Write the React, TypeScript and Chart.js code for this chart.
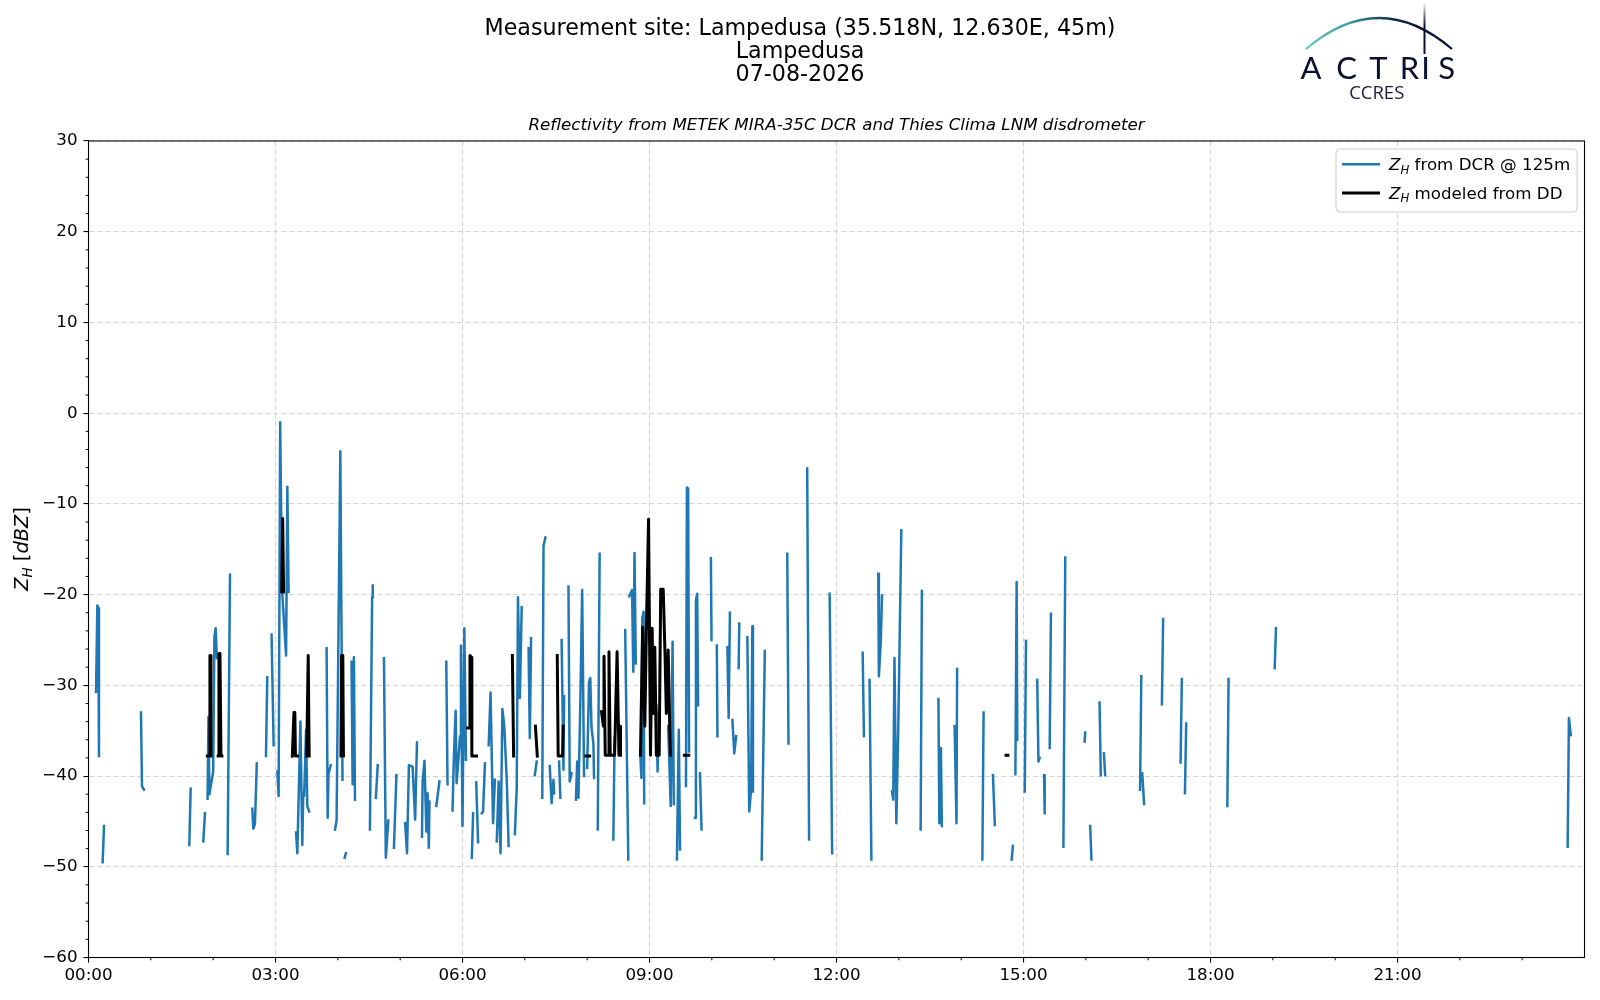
import React, { useEffect, useRef } from 'react';
import { Chart, registerables } from 'chart.js';

Chart.register(...registerables);

// ---------------- DATA ----------------
// Z_H from DCR @ 125m  (time in hours of day, reflectivity in dBZ; null = gap)
const dcrTime: (number | null)[] = [
  0.121, 0.142, 0.157, 0.168, null,
  0.227, 0.249, null,
  0.842, 0.858, 0.89, null,
  1.617, 1.639, null,
  1.842, 1.868, null,
  1.91, 1.925, 1.94, 2.0, 2.02, 2.04, 2.06, null,
  2.232, 2.27, null,
  2.628, 2.644, 2.67, 2.7, null,
  2.847, 2.868, null,
  2.937, 2.97, null,
  3.03, 3.05, 3.075, 3.105, 3.17, 3.19, 3.21, null,
  3.33, 3.35, 3.37, 3.4, 3.43, 3.445, 3.46, 3.49, 3.51, 3.54, null,
  3.82, 3.837, 3.85, 3.885, null,
  3.955, 3.98, 4.04, 4.075, null,
  4.11, 4.13, null,
  4.22, 4.237, 4.258, 4.275, null,
  4.515, 4.55, 4.56, null,
  4.61, 4.64, null,
  4.74, 4.77, 4.81, null,
  4.9, 4.94, null,
  5.08, 5.11, 5.14, 5.2, 5.24, 5.27, null,
  5.35, 5.36, 5.39, 5.42, 5.44, 5.46, 5.47, null,
  5.58, 5.63, null,
  5.74, 5.76, null,
  5.84, 5.86, 5.89, 5.905, 5.93, 5.96, 5.975, 6.0, 6.03, 6.055, null,
  6.15, 6.17, null,
  6.22, 6.25, null,
  6.31, 6.33, 6.36, null,
  6.42, 6.45, 6.49, 6.52, null,
  6.55, 6.58, 6.61, 6.64, 6.67, 6.71, 6.74, null,
  6.84, 6.87, 6.89, 6.92, 6.95, null,
  7.06, 7.08, 7.1, null,
  7.16, 7.19, null,
  7.28, 7.3, 7.33, null,
  7.4, 7.43, 7.46, 7.47, null,
  7.55, 7.57, null,
  7.59, 7.62, 7.63, null,
  7.7, 7.72, 7.75, null,
  7.82, 7.84, 7.86, 7.89, 7.92, 7.95, null,
  8.0, 8.03, 8.05, 8.07, 8.1, 8.11, null,
  8.17, 8.2, null,
  8.42, 8.44, null,
  8.61, 8.66, null,
  8.675, 8.72, 8.74, 8.76, 8.78, null,
  8.855, 8.87, 8.885, 8.905, 8.915, null,
  9.11, 9.13, 9.15, null,
  9.3, 9.34, 9.37, 9.39, null,
  9.44, 9.47, 9.49, null,
  9.585, 9.6, 9.62, 9.635, null,
  9.73, 9.745, 9.765, 9.78, null,
  9.81, 9.835, null,
  9.985, 9.995, null,
  10.08, 10.09, null,
  10.25, 10.27, 10.29, null,
  10.33, 10.36, 10.39, null,
  10.43, 10.44, null,
  10.57, 10.6, 10.63, 10.65, 10.66, null,
  10.8, 10.85, null,
  11.21, 11.23, null,
  11.53, 11.56, null,
  11.89, 11.93, null,
  12.42, 12.44, null,
  12.53, 12.56, null,
  12.67, 12.68, 12.71, 12.73, null,
  12.89, 12.91, 12.93, 12.96, 12.99, 13.04, null,
  13.35, 13.37, null,
  13.635, 13.65, 13.675, 13.69, null,
  13.895, 13.925, 13.935, null,
  14.34, 14.36, null,
  14.51, 14.54, null,
  14.81, 14.83, null,
  14.87, 14.89, 14.9, null,
  15.02, 15.04, null,
  15.22, 15.24, 15.26, null,
  15.33, 15.34, null,
  15.42, 15.44, null,
  15.64, 15.67, null,
  15.98, 15.99, null,
  16.07, 16.09, null,
  16.22, 16.24, null,
  16.29, 16.31, null,
  16.87, 16.89, null,
  16.905, 16.935, null,
  17.22, 17.24, null,
  17.52, 17.54, null,
  17.59, 17.61, null,
  18.27, 18.29, null,
  19.03, 19.05, null,
  23.73, 23.75, 23.78,
];
const dcrZh: (number | null)[] = [
  -30.7, -21.2, -21.5, -37.8, null,
  -49.5, -45.5, null,
  -33.0, -41.1, -41.5, null,
  -47.6, -41.4, null,
  -47.2, -44.1, null,
  -42.5, -33.5, -42.0, -39.5, -24.7, -23.7, -27.0, null,
  -48.6, -17.8, null,
  -43.6, -45.8, -45.3, -38.6, null,
  -37.8, -29.1, null,
  -24.4, -36.6, null,
  -39.5, -42.2, -1.0, -19.5, -26.7, -8.1, -19.7, null,
  -46.2, -48.5, -42.8, -34.0, -47.6, -41.9, -42.2, -34.9, -43.3, -43.9, null,
  -25.9, -44.6, -39.8, -38.8, null,
  -45.9, -44.9, -4.2, -40.4, null,
  -49.0, -48.5, null,
  -27.4, -40.9, -26.9, -42.6, null,
  -45.9, -20.3, -19.0, null,
  -42.4, -38.8, null,
  -27.0, -49.0, -44.9, null,
  -47.9, -39.9, null,
  -45.2, -48.5, -38.8, -39.0, -44.8, -36.3, null,
  -46.7, -40.6, -38.3, -46.1, -41.9, -47.9, -42.8, null,
  -43.3, -40.6, null,
  -27.4, -40.9, null,
  -43.8, -38.3, -32.8, -40.8, -38.6, -35.6, -25.6, -45.5, -23.7, -38.2, null,
  -49.0, -44.1, null,
  -40.7, -47.3, null,
  -44.1, -43.9, -38.6, null,
  -36.6, -30.8, -45.2, -40.4, null,
  -47.2, -40.6, -48.5, -32.6, -34.5, -40.4, -47.7, null,
  -46.4, -41.3, -20.3, -31.4, -21.4, null,
  -25.9, -35.8, -24.8, null,
  -39.9, -38.4, null,
  -42.4, -14.6, -13.7, null,
  -38.9, -43.0, -40.4, -41.9, null,
  -38.4, -42.4, null,
  -25.0, -39.3, -31.2, null,
  -19.1, -40.6, -39.7, null,
  -42.6, -38.4, -42.4, -32.0, -19.5, -40.0, null,
  -39.1, -29.6, -29.2, -34.7, -36.4, -40.2, null,
  -45.9, -15.5, null,
  -47.0, -35.8, null,
  -23.9, -49.2, null,
  -20.2, -19.5, -28.5, -15.4, -27.6, null,
  -38.0, -40.2, -22.6, -21.9, -43.0, null,
  -32.2, -39.5, -33.0, null,
  -34.5, -43.3, -25.2, -43.1, null,
  -49.2, -34.9, -48.1, null,
  -41.1, -8.2, -8.3, -37.3, null,
  -44.6, -20.6, -19.9, -32.2, null,
  -39.7, -45.9, null,
  -16.0, -25.0, null,
  -25.6, -35.6, null,
  -25.8, -33.6, -22.0, null,
  -33.8, -37.5, -35.6, null,
  -28.1, -23.2, null,
  -24.7, -43.9, -41.5, -23.5, -41.7, null,
  -49.2, -26.2, null,
  -15.5, -36.4, null,
  -6.1, -47.0, null,
  -19.9, -48.5, null,
  -26.4, -35.6, null,
  -29.4, -49.2, null,
  -17.7, -29.0, -25.2, -20.1, null,
  -41.7, -42.6, -27.0, -45.2, -35.1, -12.9, null,
  -45.9, -19.6, null,
  -31.5, -45.2, -36.9, -45.5, null,
  -34.5, -45.2, -28.2, null,
  -49.2, -33.0, null,
  -39.9, -45.4, null,
  -49.2, -47.7, null,
  -39.8, -18.6, -36.0, null,
  -41.7, -25.1, null,
  -29.4, -38.4, -38.0, null,
  -39.9, -44.1, null,
  -36.9, -22.1, null,
  -47.8, -15.9, null,
  -36.2, -35.2, null,
  -45.5, -49.2, null,
  -31.9, -39.9, null,
  -37.5, -39.9, null,
  -41.5, -29.0, null,
  -39.7, -43.1, null,
  -32.1, -22.7, null,
  -38.5, -29.3, null,
  -41.9, -34.2, null,
  -43.3, -29.3, null,
  -28.1, -23.7, null,
  -47.8, -33.6, -35.5,
];

// Z_H modeled from DD
const ddTime: (number | null)[] = [
  1.906, 1.937, 1.948, 1.96, 1.965, null,
  2.08, 2.093, 2.109, 2.125, 2.14, null,
  3.1, 3.115, 3.13, null,
  3.27, 3.296, 3.31, 3.32, 3.35, null,
  3.5, 3.525, 3.54, null,
  4.05, 4.06, 4.08, 4.09, null,
  6.08, 6.11, 6.12, 6.145, 6.15, 6.226, null,
  6.8, 6.82, null,
  7.17, 7.2, null,
  7.52, 7.535, 7.605, 7.615, null,
  7.98, 8.04, null,
  8.23, 8.26, 8.27, 8.29, 8.34, 8.35, 8.37, 8.44, 8.48, 8.51, 8.53, 8.535, null,
  8.855, 8.89, 8.925, 8.95, 8.985, 9.016, 9.043, 9.06, 9.085, 9.11, 9.155, 9.18, 9.22, 9.25, 9.27, 9.3, 9.325, 9.335, null,
  9.56, 9.63, null,
  14.72, 14.75,
];
const ddZh: (number | null)[] = [
  -37.8, -37.8, -26.7, -26.7, -37.8, null,
  -37.8, -26.5, -26.5, -37.8, -37.8, null,
  -19.7, -11.6, -19.7, null,
  -37.8, -33.0, -33.0, -37.8, -37.8, null,
  -37.8, -26.7, -37.8, null,
  -37.8, -26.7, -26.7, -37.8, null,
  -34.7, -34.7, -26.7, -26.9, -37.8, -37.8, null,
  -26.7, -37.8, null,
  -34.5, -37.8, null,
  -26.7, -37.8, -37.8, -34.5, null,
  -37.8, -37.8, null,
  -32.9, -34.5, -26.8, -37.7, -37.7, -26.3, -37.7, -37.7, -26.3, -37.7, -34.5, -37.7, null,
  -37.7, -23.6, -34.5, -23.7, -11.7, -37.7, -23.7, -33.1, -25.8, -37.7, -37.7, -19.4, -19.4, -26.8, -33.1, -26.1, -34.7, -37.7, null,
  -37.7, -37.7, null,
  -37.7, -37.7,
];

const xTickHours = [0, 3, 6, 9, 12, 15, 18, 21, 24];
const xTickLabels = ['00:00', '03:00', '06:00', '09:00', '12:00', '15:00', '18:00', '21:00', ''];
const yTickValues = [-60, -50, -40, -30, -20, -10, 0, 10, 20, 30];
const yTickLabels = ['\u221260', '\u221250', '\u221240', '\u221230', '\u221220', '\u221210', '0', '10', '20', '30'];

const titleLines = ['Measurement site: Lampedusa (35.518N, 12.630E, 45m)', 'Lampedusa', '07-08-2026'];
const subtitleText = 'Reflectivity from METEK MIRA-35C DCR and Thies Clima LNM disdrometer';
const legendLabels = [' from DCR @ 125m', ' modeled from DD'];
const seriesColors = ['#1f77b4', '#000000'];
const seriesWidths = [2.5, 3.0];

// ---------------- HELPERS ----------------
const FAM = '"DejaVu Sans", sans-serif';

function toPoints(t: (number | null)[], z: (number | null)[]) {
  const pts: { x: number; y: number | null }[] = [];
  let last = 0;
  for (let i = 0; i < t.length; i++) {
    const ti = t[i];
    const zi = z[i];
    if (ti === null || zi === null) {
      pts.push({ x: last, y: null });
    } else {
      last = ti;
      pts.push({ x: ti, y: zi });
    }
  }
  return pts;
}

type Part = { t: string; f: string; dy?: number };

function drawParts(ctx: CanvasRenderingContext2D, parts: Part[], x: number, y: number, align: 'left' | 'center') {
  let w = 0;
  for (const p of parts) {
    ctx.font = p.f;
    w += ctx.measureText(p.t).width;
  }
  let cx = align === 'center' ? x - w / 2 : x;
  ctx.textAlign = 'left';
  for (const p of parts) {
    ctx.font = p.f;
    ctx.fillText(p.t, cx, y + (p.dy || 0));
    cx += ctx.measureText(p.t).width;
  }
}

const decorPlugin = {
  id: 'decor',
  afterDraw(chart: any) {
    const ctx: CanvasRenderingContext2D = chart.ctx;
    const a = chart.chartArea;
    const xs = chart.scales.x;
    const ys = chart.scales.y;
    ctx.save();

    // frame (all four spines)
    ctx.strokeStyle = '#000';
    ctx.lineWidth = 1.1;
    ctx.strokeRect(a.left, a.top, a.right - a.left, a.bottom - a.top);

    // minor ticks
    ctx.lineWidth = 1;
    ctx.beginPath();
    for (let v = -60; v <= 30; v += 2) {
      if (v % 10 === 0) continue;
      const y = ys.getPixelForValue(v);
      ctx.moveTo(a.left, y);
      ctx.lineTo(a.left - 2.8, y);
    }
    for (let h = 0; h < 24; h += 1) {
      if (h % 3 === 0) continue;
      const x = xs.getPixelForValue(h);
      ctx.moveTo(x, a.bottom);
      ctx.lineTo(x, a.bottom + 2.8);
    }
    ctx.stroke();

    // titles
    ctx.fillStyle = '#000';
    ctx.textAlign = 'center';
    ctx.textBaseline = 'middle';
    ctx.font = `22.2px ${FAM}`;
    const titleY = [29, 52.2, 75.2];
    titleLines.forEach((l, i) => ctx.fillText(l, 800, titleY[i]));
    ctx.font = `italic 16.7px ${FAM}`;
    ctx.fillText(subtitleText, (a.left + a.right) / 2, 125.5);

    // y-axis label with subscript
    ctx.textBaseline = 'alphabetic';
    ctx.save();
    ctx.translate(22.5, 549);
    ctx.rotate(-Math.PI / 2);
    drawParts(
      ctx,
      [
        { t: 'Z', f: `italic 19.4px ${FAM}` },
        { t: 'H', f: `italic 13.6px ${FAM}`, dy: 4 },
        { t: ' [', f: `19.4px ${FAM}` },
        { t: 'dBZ', f: `italic 19.4px ${FAM}` },
        { t: ']', f: `19.4px ${FAM}` },
      ],
      0,
      5,
      'center'
    );
    ctx.restore();

    // legend
    const lx0 = 1336, ly0 = 149, lx1 = 1577, ly1 = 212, r = 4;
    ctx.beginPath();
    ctx.moveTo(lx0 + r, ly0);
    ctx.lineTo(lx1 - r, ly0);
    ctx.arcTo(lx1, ly0, lx1, ly0 + r, r);
    ctx.lineTo(lx1, ly1 - r);
    ctx.arcTo(lx1, ly1, lx1 - r, ly1, r);
    ctx.lineTo(lx0 + r, ly1);
    ctx.arcTo(lx0, ly1, lx0, ly1 - r, r);
    ctx.lineTo(lx0, ly0 + r);
    ctx.arcTo(lx0, ly0, lx0 + r, ly0, r);
    ctx.closePath();
    ctx.fillStyle = 'rgba(255,255,255,0.8)';
    ctx.fill();
    ctx.strokeStyle = '#cccccc';
    ctx.lineWidth = 1;
    ctx.stroke();
    const rowY = [164.3, 192.9];
    for (let i = 0; i < 2; i++) {
      ctx.strokeStyle = seriesColors[i];
      ctx.lineWidth = seriesWidths[i];
      ctx.beginPath();
      ctx.moveTo(1342, rowY[i]);
      ctx.lineTo(1380, rowY[i]);
      ctx.stroke();
      ctx.fillStyle = '#000';
      drawParts(
        ctx,
        [
          { t: 'Z', f: `italic 16.7px ${FAM}` },
          { t: 'H', f: `italic 11.7px ${FAM}`, dy: 3.5 },
          { t: legendLabels[i], f: `16.7px ${FAM}` },
        ],
        1389,
        rowY[i] + 6,
        'left'
      );
    }

    // ACTRIS logo
    const navy = '#0b1033';
    const g = ctx.createLinearGradient(1306, 0, 1452, 0);
    g.addColorStop(0, '#6cc6c2');
    g.addColorStop(0.3, '#3a9aa3');
    g.addColorStop(0.55, '#163956');
    g.addColorStop(0.75, navy);
    g.addColorStop(1, navy);
    ctx.strokeStyle = g;
    ctx.lineWidth = 2.2;
    ctx.beginPath();
    ctx.moveTo(1306, 49);
    ctx.quadraticCurveTo(1379, -13, 1452, 49);
    ctx.stroke();
    const gv = ctx.createLinearGradient(0, 2, 0, 54);
    gv.addColorStop(0, 'rgba(11,16,51,0)');
    gv.addColorStop(0.45, navy);
    gv.addColorStop(1, navy);
    ctx.strokeStyle = gv;
    ctx.lineWidth = 2;
    ctx.beginPath();
    ctx.moveTo(1424.5, 2);
    ctx.lineTo(1424.5, 54);
    ctx.stroke();
    ctx.fillStyle = navy;
    ctx.textAlign = 'center';
    ctx.textBaseline = 'alphabetic';
    ctx.font = '31px Lato, "Open Sans", sans-serif';
    const letters = ['A', 'C', 'T', 'R', 'I', 'S'];
    const lxs = [1311, 1346.5, 1378.3, 1409.5, 1425.5, 1446.7];
    letters.forEach((ch, i) => ctx.fillText(ch, lxs[i], 78.5));
    ctx.font = '18.5px "Open Sans", sans-serif';
    ctx.fillStyle = '#1a1d3d';
    ctx.fillText('CCRES', 1376.7, 99.3);

    ctx.restore();
  },
};

export default function App() {
  const ref = useRef<HTMLCanvasElement>(null);

  useEffect(() => {
    document.body.style.margin = '0';
    const canvas = ref.current;
    if (!canvas) return;
    const tickFont = { family: '"DejaVu Sans", sans-serif', size: 16.7 };
    const chart = new Chart(canvas, {
      type: 'line',
      data: {
        datasets: [
          {
            label: 'Z_H modeled from DD',
            data: toPoints(ddTime, ddZh) as any,
            borderColor: seriesColors[1],
            borderWidth: seriesWidths[1],
            pointRadius: 0,
            spanGaps: false,
            tension: 0,
            borderJoinStyle: 'round',
            borderCapStyle: 'square',
            order: 1,
          },
          {
            label: 'Z_H from DCR @ 125m',
            data: toPoints(dcrTime, dcrZh) as any,
            borderColor: seriesColors[0],
            borderWidth: seriesWidths[0],
            pointRadius: 0,
            spanGaps: false,
            tension: 0,
            borderJoinStyle: 'round',
            borderCapStyle: 'square',
            order: 2,
          },
        ],
      },
      options: {
        animation: false,
        responsive: false,
        events: [],
        layout: { padding: { top: 141, right: 15.5, left: 0, bottom: 0 } },
        plugins: {
          legend: { display: false },
          title: { display: false },
          tooltip: { enabled: false },
        },
        scales: {
          x: {
            type: 'linear',
            min: 0,
            max: 24,
            afterBuildTicks: (scale: any) => {
              scale.ticks = xTickHours.map((v) => ({ value: v }));
            },
            afterFit: (scale: any) => {
              scale.height = 42.5;
            },
            ticks: {
              autoSkip: false,
              maxRotation: 0,
              padding: 3,
              color: '#000',
              font: tickFont,
              callback: (v: any) => {
                const i = xTickHours.indexOf(Number(v));
                return i >= 0 ? xTickLabels[i] : '';
              },
            },
            grid: {
              color: (c: any) => (c.tick && c.tick.value === 24 ? 'rgba(0,0,0,0)' : '#d4d4d4'),
              lineWidth: 1.1,
              tickLength: 5,
              tickWidth: 1.1,
              tickColor: (c: any) => (c.tick && c.tick.value === 24 ? 'rgba(0,0,0,0)' : '#000'),
            },
            border: { display: false, dash: [5, 3] },
          },
          y: {
            type: 'linear',
            min: -60,
            max: 30,
            afterBuildTicks: (scale: any) => {
              scale.ticks = yTickValues.map((v) => ({ value: v }));
            },
            afterFit: (scale: any) => {
              scale.width = 88.5;
            },
            ticks: {
              autoSkip: false,
              padding: 6,
              color: '#000',
              font: tickFont,
              callback: (v: any) => {
                const i = yTickValues.indexOf(Number(v));
                return i >= 0 ? yTickLabels[i] : '';
              },
            },
            grid: {
              color: '#d4d4d4',
              lineWidth: 1.1,
              tickLength: 5,
              tickWidth: 1.1,
              tickColor: '#000',
            },
            border: { display: false, dash: [5, 3] },
          },
        },
      },
      plugins: [decorPlugin],
    });
    return () => chart.destroy();
  }, []);

  return (
    <div style={{ position: 'fixed', left: 0, top: 0, width: 1600, height: 1000, background: '#fff' }}>
      <canvas ref={ref} width={1600} height={1000} style={{ display: 'block', width: 1600, height: 1000 }} />
    </div>
  );
}
